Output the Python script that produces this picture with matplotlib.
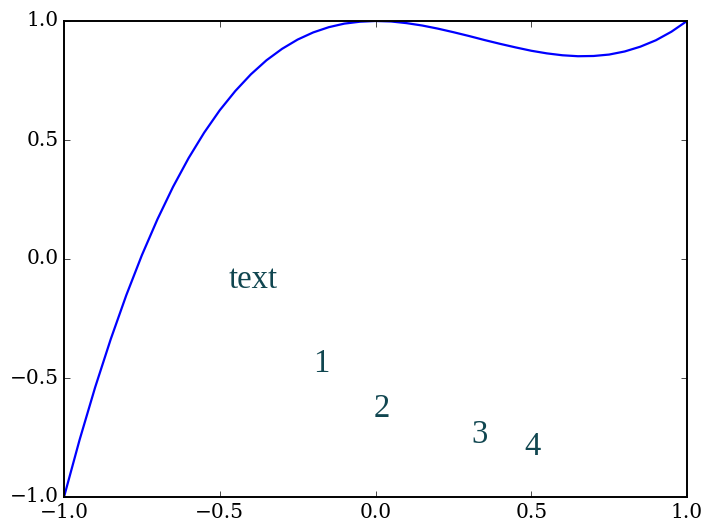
import matplotlib
matplotlib.use("Agg")
import matplotlib.pyplot as plt

# curve values
x_vals = [-1.0, -0.95, -0.9, -0.85, -0.8, -0.75, -0.7, -0.65, -0.6, -0.55, -0.5,
          -0.45, -0.4, -0.35, -0.3, -0.25, -0.2, -0.15, -0.1, -0.05, 0.0,
          0.05, 0.1, 0.15, 0.2, 0.25, 0.3, 0.35, 0.4, 0.45, 0.5,
          0.55, 0.6, 0.65, 0.7, 0.75, 0.8, 0.85, 0.9, 0.95, 1.0]
y_vals = [-1.0, -0.76, -0.539, -0.337, -0.152, 0.016, 0.167, 0.303, 0.424, 0.531, 0.625,
          0.706, 0.776, 0.835, 0.883, 0.922, 0.952, 0.974, 0.989, 0.997, 1.0,
          0.998, 0.991, 0.981, 0.968, 0.953, 0.937, 0.92, 0.904, 0.889, 0.875,
          0.864, 0.856, 0.852, 0.853, 0.859, 0.872, 0.892, 0.919, 0.955, 1.0]

labels = ["text", "1", "2", "3", "4"]
label_x = [-0.47, -0.2, -0.005, 0.307, 0.477]
label_y = [-0.122, -0.475, -0.664, -0.773, -0.824]

plt.style.use("classic")
plt.rcParams["font.family"] = "DejaVu Serif"

fig = plt.figure(figsize=(7.1, 5.28), dpi=100, facecolor="white")
ax = fig.add_axes([64/710, 31/528, 623/710, 476/528])
ax.plot(x_vals, y_vals, color="blue", linewidth=1.6)

for s, tx, ty in zip(labels, label_x, label_y):
    ax.text(tx, ty, s, fontsize=23.5, color="#104650", family="Liberation Serif")

ax.set_xlim(-1, 1)
ax.set_ylim(-1, 1)
ax.set_xticks([-1.0, -0.5, 0.0, 0.5, 1.0])
ax.set_yticks([-1.0, -0.5, 0.0, 0.5, 1.0])
ax.tick_params(labelsize=14.5)
for sp in ax.spines.values():
    sp.set_linewidth(1.4)

fig.savefig("out.png", dpi=100, facecolor="white")
